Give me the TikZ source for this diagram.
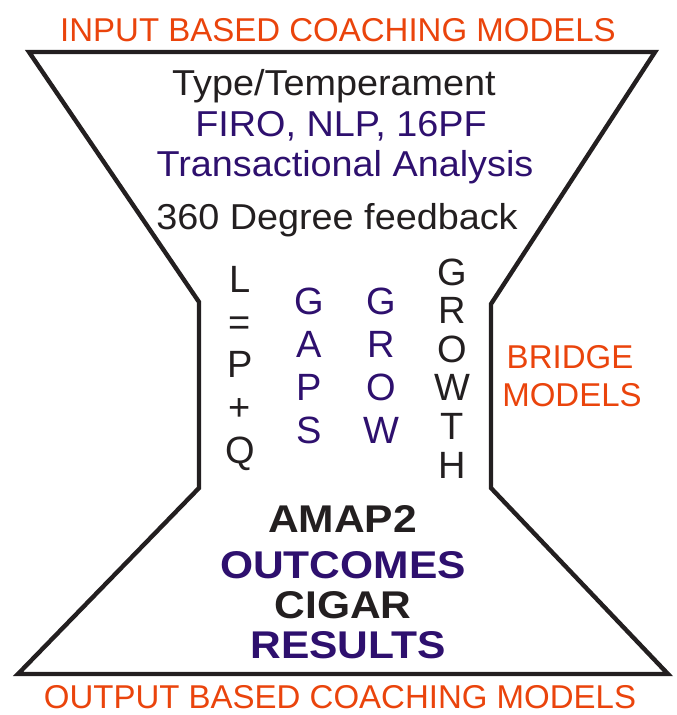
\documentclass[tikz,border=0pt]{standalone}
\usepackage{fontspec}
\setmainfont{Liberation Sans}
\newfontfamily\widefont[FakeStretch=1.05]{Liberation Sans}
\newfontfamily\resultfont[FakeStretch=1.1]{Liberation Sans}
\usepackage{tikz}
\definecolor{modelred}{RGB}{234,68,12}
\definecolor{toolpurple}{RGB}{46,16,110}
\definecolor{inkblack}{RGB}{35,31,32}
\tikzset{
    heading/.style = {anchor=base, inner sep=0, text=modelred, font=\fontsize{24.75}{30}\selectfont},
    model/.style = {anchor=base, inner sep=0, text=inkblack, font=\widefont\fontsize{27}{32}\selectfont},
    letter/.style = {anchor=base, inner sep=0, text=inkblack, font=\fontsize{28.5}{32}\selectfont},
    outcome/.style = {anchor=base, inner sep=0, text=inkblack, font=\resultfont\bfseries\fontsize{29}{34}\selectfont},
    funnel/.style = {draw=inkblack, line width=3.3pt, line join=miter},
}

\begin{document}
\begin{tikzpicture}[x=0.75pt, y=-0.75pt]
    \useasboundingbox (0,0) rectangle (676,715);
    % hourglass outline
    \draw [funnel] (29,52) -- (655,52) -- (491,304) -- (491,488) -- (668,674)
        -- (18,674) -- (199,488) -- (199,302) -- cycle;

    \node [heading] (input) at (338,41) {INPUT BASED COACHING MODELS};
    \node [heading] (output) at (340,708) {OUTPUT BASED COACHING MODELS};
    \node [heading] (bridge) at (570,368) {BRIDGE};
    \node [heading] (bridgemodels) at (572,406) {MODELS};

    % input tools
    \node [model] (type) at (334,95) {Type/Temperament};
    \node [model, text=toolpurple] (firo) at (341,136) {FIRO, NLP, 16PF};
    \node [model, text=toolpurple] (ta) at (345,176) {Transactional Analysis};
    \node [model] (feedback) at (337,229) {360 Degree feedback};

    % bridge models, written downwards
    \foreach \ch [count=\i from 0] in {L,=,P,+,Q}
        \node [letter] (lpq\i) at (240,292.7+42.6*\i) {\ch};
    \foreach \ch [count=\i from 0] in {G,A,P,S}
        \node [letter, text=toolpurple] (gaps\i) at (309,314+43*\i) {\ch};
    \foreach \ch [count=\i from 0] in {G,R,O,W}
        \node [letter, text=toolpurple] (grow\i) at (381,314+43*\i) {\ch};
    \foreach \ch [count=\i from 0] in {G,R,O,W,T,H}
        \node [letter] (growth\i) at (452,285+38.6*\i) {\ch};

    % outputs
    \node [outcome] (amap) at (342.5,532) {AMAP2};
    \node [outcome, text=toolpurple] (outcomes) at (343,578) {OUTCOMES};
    \node [outcome] (cigar) at (343,618) {CIGAR};
    \node [outcome, text=toolpurple] (results) at (348,658) {RESULTS};
\end{tikzpicture}
\end{document}
